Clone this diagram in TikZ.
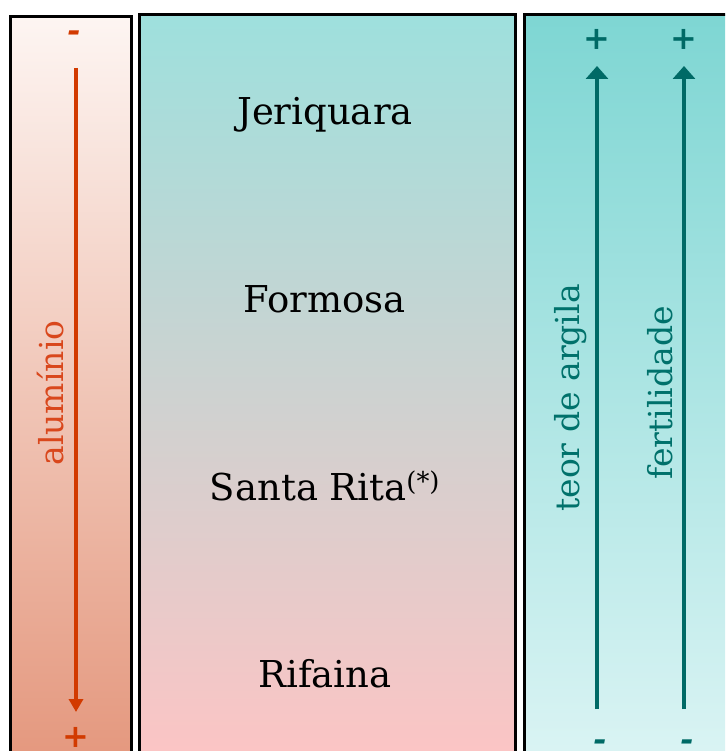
\documentclass[tikz,border=0pt]{standalone}
\usepackage{fontspec}
\setmainfont{DejaVu Serif}
\usetikzlibrary{arrows.meta}
\definecolor{leftTop}{HTML}{FDF5F2}
\definecolor{leftBot}{HTML}{E4977D}
\definecolor{midTop}{HTML}{9EE0DD}
\definecolor{midMid}{HTML}{D4D3D3}
\definecolor{midBot}{HTML}{FDC4C4}
\definecolor{rightTop}{HTML}{7ED6D3}
\definecolor{rightBot}{HTML}{DBF4F4}
\definecolor{orangeArrow}{HTML}{D23A00}
\definecolor{orangeText}{HTML}{D9471C}
\definecolor{tealArrow}{HTML}{006A66}
\definecolor{tealText}{HTML}{00716B}
\tikzset{
  boxline/.style={draw=black,line width=3pt},
  placename/.style={font=\fontsize{37}{44}\selectfont,text=black,anchor=base,inner sep=0pt},
  sidelabel/.style={font=\fontsize{33}{40}\selectfont,rotate=90,anchor=base,inner sep=0pt},
  signmark/.style={font=\fontsize{32}{36}\selectfont\bfseries,inner sep=0pt,anchor=base},
  orangearrow/.style={draw=orangeArrow,line width=4.8pt,-{Triangle[width=14pt,length=13pt]}},
  tealarrow/.style={draw=tealArrow,line width=4.2pt,-{Triangle[width=22pt,length=13pt]}},
}
\begin{document}
\begin{tikzpicture}[x=1pt,y=-1pt]
\useasboundingbox (0,0) rectangle (725,751);
\clip (0,0) rectangle (725,751);
\fill[white] (0,0) rectangle (725,751);
% left column
\shade[top color=leftTop,bottom color=leftBot] (10.5,16.5) rectangle (131.5,765);
\draw[boxline] (10.5,16.5) rectangle (131.5,765);
% middle column
\shade[top color=midTop,middle color=midMid,bottom color=midBot] (139.5,15) rectangle (515.5,765);
\draw[boxline] (139.5,15) rectangle (515.5,765);
% right column
\shade[top color=rightTop,bottom color=rightBot] (524.5,14.5) rectangle (740,765);
\draw[boxline] (524.5,14.5) rectangle (740,765);
% place names
\node[placename] (jer) at (325,125) {Jeriquara};
\node[placename] (for) at (325,312) {Formosa};
\node[placename] (sr) at (325,500) {Santa Rita\textsuperscript{(*)}};
\node[placename] (rif) at (325,687) {Rifaina};
% left scale
\node[signmark,text=orangeArrow] (lminus) at (74,42) {\itshape -};
\node[signmark,text=orangeArrow] (lplus) at (76,747) {+};
\coordinate (la) at (76,68);
\coordinate (lb) at (76,712);
\draw[orangearrow] (la) -- (lb);
\node[sidelabel,text=orangeText] (alu) at (63,393) {alumínio};
% right scales
\node[signmark,text=tealArrow] (r1plus) at (597,50) {+};
\node[signmark,text=tealArrow] (r2plus) at (684,50) {+};
\node[signmark,text=tealArrow] (r1minus) at (600,750.5) {\itshape -};
\node[signmark,text=tealArrow] (r2minus) at (687,750.5) {\itshape -};
\coordinate (r1a) at (597,709);
\coordinate (r1b) at (597,66);
\coordinate (r2a) at (684,709);
\coordinate (r2b) at (684,66);
\draw[tealarrow] (r1a) -- (r1b);
\draw[tealarrow] (r2a) -- (r2b);
\node[sidelabel,text=tealText] (teor) at (579,398) {teor de argila};
\node[sidelabel,text=tealText] (fert) at (672,393) {fertilidade};
\end{tikzpicture}
\end{document}
